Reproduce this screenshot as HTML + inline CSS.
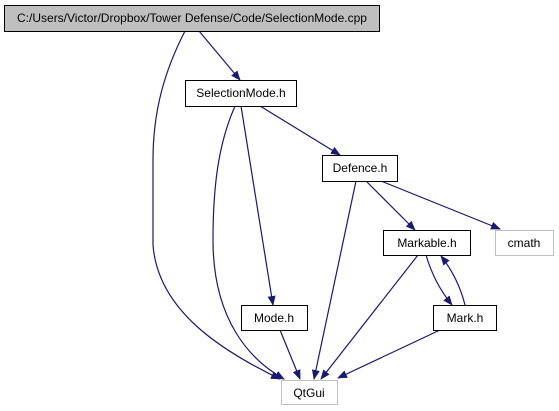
<!DOCTYPE html>
<html><head><style>
html,body{margin:0;padding:0;background:#fff;}
svg{display:block;}
text{font-family:"Liberation Sans",Arial,sans-serif;font-size:12px;fill:#000;}
</style></head><body>
<svg width="559" height="411" viewBox="0 0 559 411" xmlns="http://www.w3.org/2000/svg">
<defs>
<marker id="a" markerWidth="10" markerHeight="8" refX="9" refY="4" orient="auto" markerUnits="userSpaceOnUse">
<path d="M0,0 L10,4 L0,8 Z" fill="#191970"/>
</marker>
</defs>
<g fill="none" stroke="#191970" stroke-width="1.2" marker-end="url(#a)">
<path d="M185,31 C165,70 153,110 153,160 L153,245 C158,310 220,350 280,379"/>
<path d="M199,31 L240,80"/>
<path d="M235,106 C220,140 213,180 213,240 C213,320 250,360 284,379"/>
<path d="M241,106 L273,305"/>
<path d="M260,106 L340,155"/>
<path d="M356,181 L314,379"/>
<path d="M366,181 L415,230"/>
<path d="M381,181 L500,229"/>
<path d="M418,255 L321,379"/>
<path d="M426,255 C432,275 440,290 452,305"/>
<path d="M465,305 C460,285 452,270 441,256"/>
<path d="M440,330 L338,378"/>
<path d="M280,330 L300,379"/>
</g>
<g stroke-width="1">
<rect x="4.5" y="5.5" width="375" height="26" fill="#bfbfbf" stroke="#000"/>
<rect x="185.5" y="80.5" width="111" height="26" fill="#fff" stroke="#000"/>
<rect x="322.5" y="155.5" width="75" height="26" fill="#fff" stroke="#000"/>
<rect x="383.5" y="230.5" width="87" height="25" fill="#fff" stroke="#000"/>
<rect x="495.5" y="230.5" width="58" height="25" fill="#fff" stroke="#c0c0c0"/>
<rect x="241.5" y="305.5" width="66" height="25" fill="#fff" stroke="#000"/>
<rect x="433.5" y="305.5" width="63" height="25" fill="#fff" stroke="#000"/>
<rect x="281.5" y="380.5" width="56" height="24" fill="#fff" stroke="#c0c0c0"/>
</g>
<g text-anchor="middle">
<text x="192" y="22">C:/Users/Victor/Dropbox/Tower Defense/Code/SelectionMode.cpp</text>
<text x="241" y="97">SelectionMode.h</text>
<text x="360" y="172">Defence.h</text>
<text x="427" y="247">Markable.h</text>
<text x="524" y="247">cmath</text>
<text x="274" y="322">Mode.h</text>
<text x="465" y="322">Mark.h</text>
<text x="309" y="397">QtGui</text>
</g>
</svg>
</body></html>
